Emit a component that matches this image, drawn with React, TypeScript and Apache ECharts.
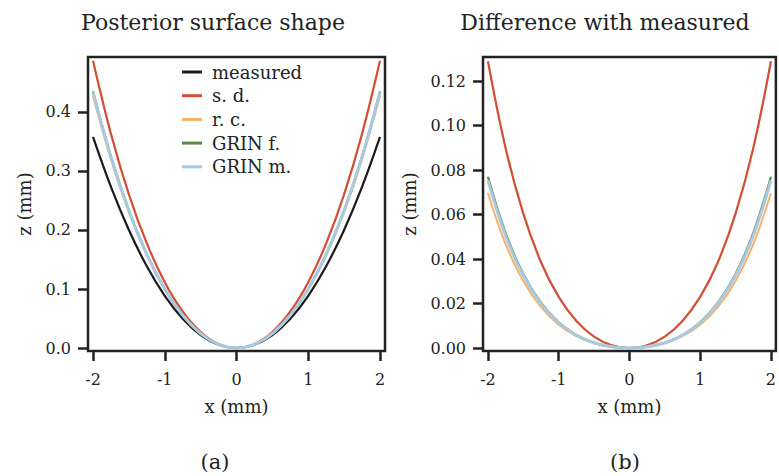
import React, { useEffect, useRef } from "react";
import * as echarts from "echarts";

// x positions (mm)
const xs = [-2, -1.75, -1.5, -1.25, -1, -0.75, -0.5, -0.25, 0, 0.25, 0.5, 0.75, 1, 1.25, 1.5, 1.75, 2];

// (a) Posterior surface shape, z (mm)
const measured = [0.3576, 0.2729, 0.2, 0.1386, 0.0885, 0.0497, 0.0221, 0.0055, 0, 0.0055, 0.0221, 0.0497, 0.0885, 0.1386, 0.2, 0.2729, 0.3576];
const sd = [0.4865, 0.3628, 0.2603, 0.1772, 0.1115, 0.0619, 0.0272, 0.0068, 0, 0.0068, 0.0272, 0.0619, 0.1115, 0.1772, 0.2603, 0.3628, 0.4865];
const rc = [0.4272, 0.3196, 0.2301, 0.157, 0.099, 0.0551, 0.0243, 0.006, 0, 0.006, 0.0243, 0.0551, 0.099, 0.157, 0.2301, 0.3196, 0.4272];
const grinF = [0.4346, 0.3246, 0.2333, 0.159, 0.1001, 0.0556, 0.0245, 0.0061, 0, 0.0061, 0.0245, 0.0556, 0.1001, 0.159, 0.2333, 0.3246, 0.4346];
const grinM = [0.4329, 0.3235, 0.2326, 0.1585, 0.0999, 0.0555, 0.0245, 0.0061, 0, 0.0061, 0.0245, 0.0555, 0.0999, 0.1585, 0.2326, 0.3235, 0.4329];

// (b) Difference with measured, z (mm)
const sdDiff = [0.1289, 0.0898, 0.0604, 0.0386, 0.023, 0.0122, 0.0052, 0.0013, 0, 0.0013, 0.0052, 0.0122, 0.023, 0.0386, 0.0604, 0.0898, 0.1289];
const rcDiff = [0.0696, 0.0467, 0.0301, 0.0184, 0.0105, 0.0054, 0.0022, 0.0005, 0, 0.0005, 0.0022, 0.0054, 0.0105, 0.0184, 0.0301, 0.0467, 0.0696];
const grinFDiff = [0.077, 0.0517, 0.0333, 0.0204, 0.0116, 0.0059, 0.0024, 0.0006, 0, 0.0006, 0.0024, 0.0059, 0.0116, 0.0204, 0.0333, 0.0517, 0.077];
const grinMDiff = [0.0753, 0.0505, 0.0326, 0.02, 0.0114, 0.0058, 0.0024, 0.0006, 0, 0.0006, 0.0024, 0.0058, 0.0114, 0.02, 0.0326, 0.0505, 0.0753];

// tick labels
const xTicks = [-2, -1, 0, 1, 2];
const leftYTicks = [0, 0.1, 0.2, 0.3, 0.4];
const rightYTicks = [0, 0.02, 0.04, 0.06, 0.08, 0.1, 0.12];

const seriesNames = ["measured", "s. d.", "r. c.", "GRIN f.", "GRIN m."];
const titles = ["Posterior surface shape", "Difference with measured"];
const panelLabels = ["(a)", "(b)"];

const FONT = '"DejaVu Serif", serif';
const INK = "#222222";
const colors: Record<string, string> = {
  "measured": "#1a1a1a",
  "s. d.": "#d24e34",
  "r. c.": "#f6b06a",
  "GRIN f.": "#5f8a4a",
  "GRIN m.": "#a9c9e0",
};
const widths: Record<string, number> = {
  "measured": 2.2,
  "s. d.": 2.2,
  "r. c.": 2,
  "GRIN f.": 2.2,
  "GRIN m.": 3,
};

const pairs = (vals: number[]) => xs.map((x, i) => [x, vals[i]]);

export default function App() {
  const ref = useRef<HTMLDivElement>(null);
  useEffect(() => {
    if (!ref.current) return;
    const chart = echarts.init(ref.current, undefined, { renderer: "svg" });

    const xAxisBase = (gridIndex: number) => ({
      type: "value",
      gridIndex,
      min: -2.07,
      max: 2.07,
      position: "bottom",
      name: "x (mm)",
      nameLocation: "middle",
      nameGap: 46,
      nameTextStyle: { fontFamily: FONT, fontSize: 18, color: INK },
      axisLine: { show: false, onZero: false },
      axisTick: { show: true, inside: false, length: 10, customValues: xTicks, lineStyle: { color: INK, width: 2.5 } },
      axisLabel: {
        customValues: xTicks,
        margin: 20,
        fontFamily: FONT,
        fontSize: 16,
        color: INK,
        formatter: (v: number) => String(v),
      },
      splitLine: { show: false },
    });

    const yAxisBase = (gridIndex: number, min: number, max: number, ticks: number[], dec: number, gap: number) => ({
      type: "value",
      gridIndex,
      min,
      max,
      position: "left",
      name: "z (mm)",
      nameLocation: "middle",
      nameGap: gap,
      nameRotate: 90,
      nameTextStyle: { fontFamily: FONT, fontSize: 18, color: INK },
      axisLine: { show: false, onZero: false },
      axisTick: { show: true, inside: false, length: 10, customValues: ticks, lineStyle: { color: INK, width: 2.5 } },
      axisLabel: {
        customValues: ticks,
        margin: 17,
        fontFamily: FONT,
        fontSize: 16,
        color: INK,
        formatter: (v: number) => v.toFixed(dec),
      },
      splitLine: { show: false },
    });

    const leftData: Record<string, number[]> = {
      "measured": measured,
      "s. d.": sd,
      "r. c.": rc,
      "GRIN f.": grinF,
      "GRIN m.": grinM,
    };
    const rightData: Record<string, number[]> = {
      "s. d.": sdDiff,
      "r. c.": rcDiff,
      "GRIN f.": grinFDiff,
      "GRIN m.": grinMDiff,
    };

    const mk = (name: string, vals: number[], idx: number) => ({
      type: "line",
      name,
      xAxisIndex: idx,
      yAxisIndex: idx,
      data: pairs(vals),
      smooth: 0.4,
      showSymbol: false,
      symbol: "none",
      lineStyle: { color: colors[name], width: widths[name] },
      itemStyle: { color: colors[name] },
      z: 2,
    });

    const series: any[] = [];
    seriesNames.forEach((n) => series.push(mk(n, leftData[n], 0)));
    seriesNames.forEach((n) => {
      if (rightData[n]) series.push(mk(n, rightData[n], 1));
    });

    chart.setOption({
      animation: false,
      backgroundColor: "#ffffff",
      textStyle: { fontFamily: FONT },
      grid: [
        { left: 88, top: 57, width: 297, height: 294, show: true, borderColor: INK, borderWidth: 2.5, backgroundColor: "transparent", containLabel: false },
        { left: 483, top: 57, width: 294, height: 294, show: true, borderColor: INK, borderWidth: 2.5, backgroundColor: "transparent", containLabel: false },
      ],
      xAxis: [xAxisBase(0), xAxisBase(1)],
      yAxis: [
        yAxisBase(0, -0.005, 0.493, leftYTicks, 1, 55),
        yAxisBase(1, -0.0013, 0.1308, rightYTicks, 2, 65),
      ],
      legend: {
        orient: "vertical",
        left: 177,
        top: 58,
        data: seriesNames,
        icon: "rect",
        itemWidth: 20,
        itemHeight: 3,
        itemGap: 5.7,
        textStyle: { fontFamily: FONT, fontSize: 18, color: INK, lineHeight: 18, padding: [0, 0, 0, 5] },
        selectedMode: false,
      },
      graphic: [
        { type: "text", x: 213, y: 22, style: { text: titles[0], fill: INK, font: `22px ${FONT}`, textAlign: "center", textVerticalAlign: "middle" } },
        { type: "text", x: 605, y: 22, style: { text: titles[1], fill: INK, font: `22px ${FONT}`, textAlign: "center", textVerticalAlign: "middle" } },
        { type: "text", x: 215, y: 462, style: { text: panelLabels[0], fill: INK, font: `21px ${FONT}`, textAlign: "center", textVerticalAlign: "middle" } },
        { type: "text", x: 625, y: 462, style: { text: panelLabels[1], fill: INK, font: `21px ${FONT}`, textAlign: "center", textVerticalAlign: "middle" } },
      ],
      series,
    });

    return () => chart.dispose();
  }, []);

  return (
    <div
      ref={ref}
      style={{ position: "fixed", left: 0, top: 0, width: 779, height: 476, background: "#fff" }}
    />
  );
}
